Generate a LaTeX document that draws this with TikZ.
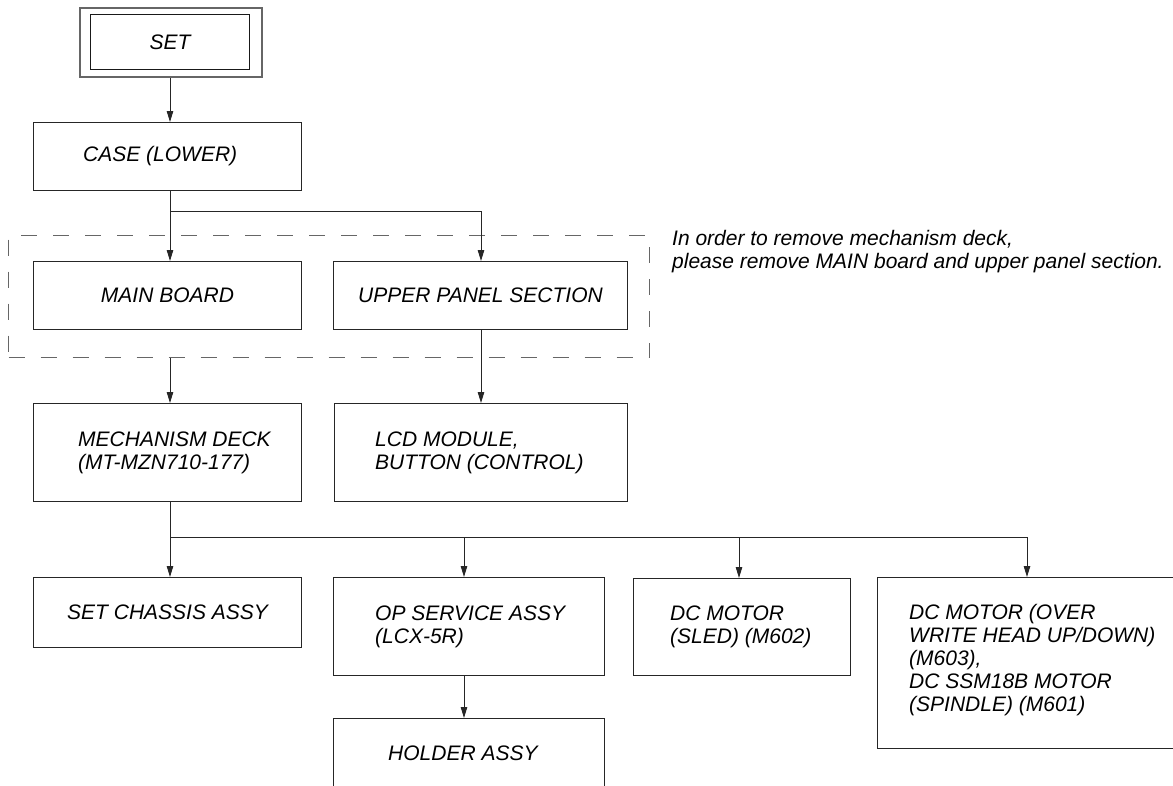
\documentclass[tikz,border=0pt]{standalone}
\usepackage{fontspec}
\setmainfont{Liberation Sans}
\usetikzlibrary{arrows.meta}
\begin{document}
\begin{tikzpicture}[x=1pt,y=-1pt,
  font=\fontsize{21}{23}\selectfont\itshape,
  box/.style={draw=black!85, line width=1pt, rectangle, inner sep=0pt, anchor=north west},
  lbl/.style={anchor=west, align=left, inner sep=0pt},
  wire/.style={draw=black!85, line width=1pt},
  arr/.style={wire, -{Triangle[length=11pt,width=6.5pt]}},
  dashbox/.style={draw=black!60, line width=1pt, dash pattern=on 16pt off 16pt},
]
\useasboundingbox (0,0) rectangle (1173,785);

% columns and junctions
\coordinate (colA) at (170,0);
\coordinate (colU) at (481,0);
\coordinate (colB) at (464,0);
\coordinate (colC) at (739,0);
\coordinate (colD) at (1027,0);
\coordinate (j1) at (170,211);
\coordinate (j2) at (170,537);

% SET (double frame)
\node[box, draw=black!60, line width=1.6pt, minimum width=182pt, minimum height=69pt] (setO) at (79,7) {};
\node[box, draw=black!90, line width=1.3pt, minimum width=159pt, minimum height=55pt] (setI) at (90,14) {SET};

% boxes
\node[box, minimum width=268pt, minimum height=68pt] (case) at (33,122) {};
\node[lbl] (caseT) at ([xshift=50pt]case.west) {CASE (LOWER)};

\node[box, dashbox, minimum width=641pt, minimum height=122pt] (dash) at (8,235) {};

\node[box, minimum width=268pt, minimum height=68pt] (main) at (33,261) {MAIN BOARD};
\node[box, minimum width=294pt, minimum height=68pt] (upper) at (333,261) {UPPER PANEL SECTION};

\node[box, minimum width=268pt, minimum height=98pt] (mech) at (33,403) {};
\node[lbl] (mechT) at ([xshift=45pt]mech.west) {MECHANISM DECK\\(MT-MZN710-177)};

\node[box, minimum width=293pt, minimum height=98pt] (lcd) at (334,403) {};
\node[lbl] (lcdT) at ([xshift=41pt]lcd.west) {LCD MODULE,\\BUTTON (CONTROL)};

\node[box, minimum width=268pt, minimum height=70pt] (chassis) at (33,577) {};
\node[lbl] (chassisT) at ([xshift=34pt]chassis.west) {SET CHASSIS ASSY};

\node[box, minimum width=271pt, minimum height=98pt] (op) at (333,577) {};
\node[lbl] (opT) at ([xshift=42pt]op.west) {OP SERVICE ASSY\\(LCX-5R)};

\node[box, minimum width=217pt, minimum height=97pt] (sled) at (633,578) {};
\node[lbl] (sledT) at ([xshift=37pt]sled.west) {DC MOTOR\\(SLED) (M602)};

\node[box, minimum width=300pt, minimum height=171pt] (over) at (877,577) {};
\node[lbl] (overT) at ([xshift=32pt,yshift=3pt]over.west) {DC MOTOR (OVER\\WRITE HEAD UP/DOWN)\\(M603),\\DC SSM18B MOTOR\\(SPINDLE) (M601)};

\node[box, minimum width=271pt, minimum height=69pt] (holder) at (333,718) {};
\node[lbl] (holderT) at ([xshift=55pt]holder.west) {HOLDER ASSY};

% note
\node[anchor=base west, align=left, inner sep=0pt, font=\fontsize{21}{23}\selectfont\itshape] (note) at (672,268)
  {In order to remove mechanism deck,\\please remove MAIN board and upper panel section.};

% connectors
\draw[arr] (setO.south -| colA) -- (case.north -| colA);
\draw[wire] (case.south -| colA) -- (j1);
\draw[arr] (j1) -- (main.north -| colA);
\draw[arr] (j1) -| (upper.north -| colU);
\draw[arr] (dash.south -| colA) -- (mech.north -| colA);
\draw[arr] (upper.south -| colU) -- (lcd.north -| colU);
\draw[wire] (mech.south -| colA) -- (j2) -- (j2 -| colD);
\draw[arr] (j2) -- (chassis.north -| colA);
\draw[arr] (j2 -| colB) -- (op.north -| colB);
\draw[arr] (j2 -| colC) -- (sled.north -| colC);
\draw[arr] (j2 -| colD) -- (over.north -| colD);
\draw[arr] (op.south -| colB) -- (holder.north -| colB);
\end{tikzpicture}
\end{document}
